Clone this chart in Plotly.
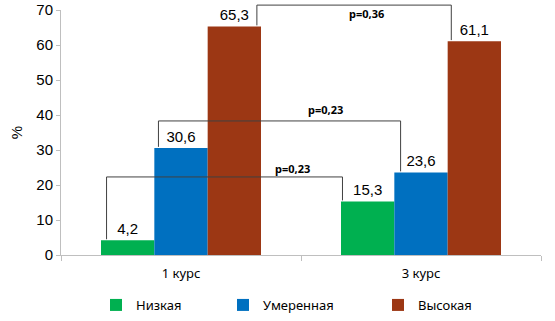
import plotly.graph_objects as go

# ---- data ----
categories = ["1 курс", "3 курс"]
series_names = ["Низкая", "Умеренная", "Высокая"]
low = [4.2, 15.3]
moderate = [30.6, 23.6]
high = [65.3, 61.1]
y_ticks = [0, 10, 20, 30, 40, 50, 60, 70]
p_labels = ["p=0,23", "p=0,23", "p=0,36"]

series_values = [low, moderate, high]
colors = ["#00b050", "#0070c0", "#9c3714"]

Y_MAX = 70
BARGAP = 1 / 3
BW = (1 - BARGAP) / len(series_values)


def bar_x(series_idx, cat_idx, offset=0.0):
    """x position (category units) of a bar centre plus an offset in category units."""
    return cat_idx + (series_idx - (len(series_values) - 1) / 2) * BW + offset


fig = go.Figure()
legend_ids = ["legend", "legend2", "legend3"]
for i, (name, vals, col) in enumerate(zip(series_names, series_values, colors)):
    fig.add_trace(go.Bar(
        x=categories, y=vals, name=name,
        marker=dict(color=col, line=dict(width=0)),
        texttemplate="%{y:.1f}", textposition="outside",
        textfont=dict(family="Liberation Sans, Arial, sans-serif", size=15, color="#000000"),
        cliponaxis=False, constraintext="none",
        legend=legend_ids[i],
    ))

# ---- brackets (series index, left cat offset, right cat offset, bracket height in data units) ----
brackets = [
    (0, -0.088, -0.105, 22.3),
    (1, -0.094, -0.085, 38.3),
    (2, 0.094, -0.096, 71.4),
]
GAP = 0.3
shapes = []
line_style = dict(color="#404040", width=1)
for s_idx, off_l, off_r, top in brackets:
    x0 = bar_x(s_idx, 0, off_l)
    x1 = bar_x(s_idx, 1, off_r)
    y0 = (series_values[s_idx][0] + GAP) / Y_MAX
    y1 = (series_values[s_idx][1] + GAP) / Y_MAX
    yt = top / Y_MAX
    for (xa, ya, xb, yb) in [(x0, y0, x0, yt), (x0, yt, x1, yt), (x1, yt, x1, y1)]:
        shapes.append(dict(type="line", xref="x", yref="paper",
                           x0=xa, y0=ya, x1=xb, y1=yb, line=line_style))

# p-value labels (positions in category / data units)
p_pos = [(0.465, 24.6), (0.60, 41.6), (0.771, 69.1)]
annotations = []
for txt, (px, py) in zip(p_labels, p_pos):
    annotations.append(dict(
        x=px, y=py, xref="x", yref="y", text="<b>" + txt + "</b>", showarrow=False,
        font=dict(family="Noto Sans, Open Sans, sans-serif", size=11, color="#000000"),
        xanchor="center", yanchor="middle",
    ))

axis_col = "#bfbfbf"
legend_common = dict(orientation="h", yanchor="middle", y=-0.204, xanchor="left",
                     bgcolor="rgba(0,0,0,0)", borderwidth=0,
                     font=dict(family="Noto Sans, Open Sans, sans-serif", size=13, color="#000000"))

fig.update_layout(
    width=555, height=321,
    margin=dict(l=61, r=14, t=10, b=66, pad=0, autoexpand=False),
    paper_bgcolor="white", plot_bgcolor="white",
    barmode="group", bargap=BARGAP, bargroupgap=0,
    separators=", ",
    showlegend=True,
    legend=dict(x=(96 - 61) / 480, **legend_common),
    legend2=dict(x=(223 - 61) / 480, **legend_common),
    legend3=dict(x=(378 - 61) / 480, **legend_common),
    shapes=shapes,
    annotations=annotations,
    xaxis=dict(
        type="category", tickson="boundaries", ticks="outside", ticklen=5,
        tickcolor=axis_col, showline=True, linecolor=axis_col, linewidth=1,
        showgrid=False, zeroline=False, ticklabelstandoff=6,
        tickfont=dict(family="Noto Sans, Open Sans, sans-serif", size=13, color="#000000"),
    ),
    yaxis=dict(
        range=[0, Y_MAX], tickvals=y_ticks, ticks="outside", ticklen=4,
        tickcolor=axis_col, showline=True, linecolor=axis_col, linewidth=1,
        showgrid=False, zeroline=False,
        tickfont=dict(family="Liberation Sans, Arial, sans-serif", size=15, color="#000000"),
        title=dict(text="%", standoff=10,
                   font=dict(family="Liberation Sans, Arial, sans-serif", size=15, color="#000000")),
    ),
)

fig.write_html("out.html")
